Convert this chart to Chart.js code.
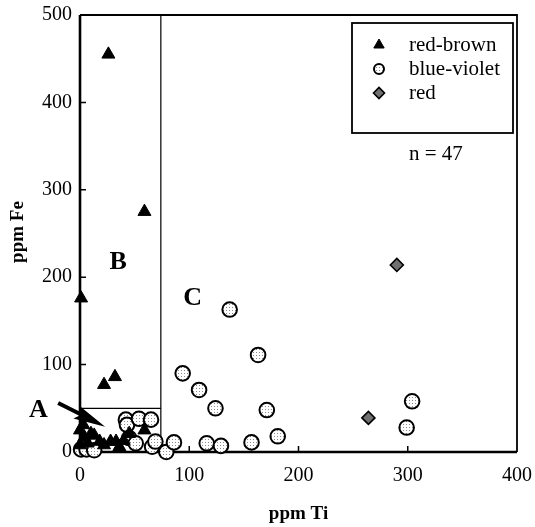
<!DOCTYPE html>
<html>
<head>
<meta charset="utf-8">
<script src="https://cdn.jsdelivr.net/npm/chart.js@4.4.0/dist/chart.umd.min.js"></script>
<style>
  html, body { margin: 0; padding: 0; background: #fff; }
  #wrap { width: 535px; height: 527px; }
</style>
</head>
<body>
<div id="wrap"><canvas id="chart"></canvas></div>
<script>
// values (ppm)
const redBrownTi = [26, 59, 1, 22, 32, 3, 0, 4, 10, 13, 18, 22, 28, 33, 40, 45, 59, 0, 7, 36];
const redBrownFe = [455, 275, 176, 77, 86, 31, 25, 17, 21, 19, 12, 8, 12, 12, 13, 21, 25, 8, 10, 6];

const blueVioletTi = [1, 6, 13, 42, 43, 54, 65, 45, 51, 66, 69, 79, 86, 94, 109, 116, 124, 129, 137, 157, 163, 171, 181, 299, 304];
const blueVioletFe = [3, 3, 2, 37, 31, 38, 37, 16, 10, 6, 12, 0, 11, 90, 71, 10, 50, 7, 163, 11, 111, 48, 18, 28, 58];

const redTi = [290, 264];
const redFe = [214, 39];

const xTicks = [0, 100, 200, 300, 400];
const yTicks = [0, 100, 200, 300, 400, 500];

// field boundaries and labels (data units)
const boxTi = 74, boxFe = 50;
const fieldNames = ['A', 'B', 'C'];
const fieldTi = [-38, 35, 103];
const fieldFe = [48, 217, 176];
const arrowFrom = [-20, 56], arrowTo = [23, 29];
const sampleCount = 'n = 47';

function pts(xs, ys) {
  return xs.map((v, i) => ({x: v, y: ys[i]}));
}

// stippled fill for the circles
const pat = document.createElement('canvas');
pat.width = 3; pat.height = 3;
const pctx = pat.getContext('2d');
pctx.fillStyle = '#fff'; pctx.fillRect(0, 0, 3, 3);
pctx.fillStyle = '#8a8a8a'; pctx.fillRect(1, 1, 1, 1);
const stipple = document.getElementById('chart').getContext('2d').createPattern(pat, 'repeat');

const serif = "'Liberation Serif', 'DejaVu Serif', serif";

const decor = {
  id: 'decor',
  beforeDatasetsDraw(chart) {
    const {ctx, chartArea: a, scales: {x, y}} = chart;
    ctx.save();
    ctx.strokeStyle = '#000';
    // field boxes
    ctx.lineWidth = 1.2;
    const bx = x.getPixelForValue(boxTi), by = y.getPixelForValue(boxFe);
    ctx.beginPath();
    ctx.moveTo(bx, a.top); ctx.lineTo(bx, a.bottom);
    ctx.moveTo(a.left, by); ctx.lineTo(bx, by);
    ctx.stroke();
    // frame
    ctx.lineWidth = 1.8;
    ctx.beginPath();
    ctx.moveTo(a.left, a.top); ctx.lineTo(a.right, a.top); ctx.lineTo(a.right, a.bottom);
    ctx.stroke();
    ctx.lineWidth = 2.6;
    ctx.beginPath();
    ctx.moveTo(a.left, a.top); ctx.lineTo(a.left, a.bottom); ctx.lineTo(a.right, a.bottom);
    ctx.stroke();
    // inward ticks
    ctx.lineWidth = 1.5;
    ctx.beginPath();
    yTicks.slice(1, -1).forEach(v => {
      const py = y.getPixelForValue(v);
      ctx.moveTo(a.left, py); ctx.lineTo(a.left + 6, py);
    });
    xTicks.slice(1, -1).forEach(v => {
      const px = x.getPixelForValue(v);
      ctx.moveTo(px, a.bottom); ctx.lineTo(px, a.bottom - 6);
    });
    ctx.stroke();
    ctx.restore();
  },
  afterDraw(chart) {
    const {ctx, chartArea: a, scales: {x, y}} = chart;
    ctx.save();
    ctx.fillStyle = '#000';
    // field letters
    ctx.font = 'bold 26px ' + serif;
    ctx.textAlign = 'center';
    ctx.textBaseline = 'middle';
    fieldNames.forEach((t, i) => {
      ctx.fillText(t, x.getPixelForValue(fieldTi[i]), y.getPixelForValue(fieldFe[i]));
    });
    // arrow to field A
    const x0 = x.getPixelForValue(arrowFrom[0]), y0 = y.getPixelForValue(arrowFrom[1]);
    const x1 = x.getPixelForValue(arrowTo[0]), y1 = y.getPixelForValue(arrowTo[1]);
    const ang = Math.atan2(y1 - y0, x1 - x0);
    const len = Math.hypot(x1 - x0, y1 - y0);
    ctx.translate(x0, y0);
    ctx.rotate(ang);
    ctx.beginPath();
    ctx.moveTo(0, -2);
    ctx.lineTo(len - 28, -2);
    ctx.lineTo(len - 32, -7);
    ctx.lineTo(len, 0);
    ctx.lineTo(len - 32, 7);
    ctx.lineTo(len - 28, 2);
    ctx.lineTo(0, 2);
    ctx.closePath();
    ctx.fill();
    ctx.setTransform(1, 0, 0, 1, 0, 0);

    // axis titles
    ctx.font = 'bold 19px ' + serif;
    ctx.textAlign = 'center';
    ctx.textBaseline = 'middle';
    ctx.fillText('ppm Ti', (a.left + a.right) / 2, 514);
    ctx.save();
    ctx.translate(18, 232);
    ctx.rotate(-Math.PI / 2);
    ctx.fillText('ppm Fe', 0, 0);
    ctx.restore();

    // legend box
    const lx = a.right - 165, ly = a.top + 8, lw = 161, lh = 110;
    ctx.lineWidth = 1.8;
    ctx.strokeStyle = '#000';
    ctx.strokeRect(lx, ly, lw, lh);
    ctx.font = '21px ' + serif;
    ctx.textAlign = 'left';
    chart.data.datasets.forEach((ds, i) => {
      const ry = ly + 22 + i * 24;
      ctx.fillStyle = ds.backgroundColor;
      ctx.strokeStyle = ds.borderColor;
      ctx.lineWidth = ds.borderWidth;
      Chart.helpers.drawPoint(ctx, {
        pointStyle: ds.pointStyle,
        radius: ds.legendRadius,
        borderWidth: ds.borderWidth
      }, lx + 27, ry);
      ctx.fillStyle = '#000';
      ctx.fillText(ds.label, lx + 57, ry);
    });
    ctx.fillText(sampleCount, lx + 57, ly + lh + 21);
    ctx.restore();
  }
};

new Chart(document.getElementById('chart'), {
  type: 'scatter',
  data: {
    datasets: [
      {
        label: 'red-brown',
        data: pts(redBrownTi, redBrownFe),
        pointStyle: 'triangle',
        pointRadius: 7.5,
        legendRadius: 6,
        backgroundColor: '#000',
        borderColor: '#000',
        borderWidth: 1,
        clip: false
      },
      {
        label: 'blue-violet',
        data: pts(blueVioletTi, blueVioletFe),
        pointStyle: 'circle',
        pointRadius: 7.3,
        legendRadius: 5,
        backgroundColor: stipple,
        borderColor: '#000',
        borderWidth: 2,
        clip: false
      },
      {
        label: 'red',
        data: pts(redTi, redFe),
        pointStyle: 'rectRot',
        pointRadius: 6.5,
        legendRadius: 5.5,
        backgroundColor: '#707070',
        borderColor: '#000',
        borderWidth: 1.6,
        clip: false
      }
    ]
  },
  options: {
    responsive: true,
    maintainAspectRatio: false,
    animation: false,
    events: [],
    layout: {padding: {left: 0, top: 15, right: 18, bottom: 0}},
    plugins: {legend: {display: false}, tooltip: {enabled: false}},
    scales: {
      x: {
        type: 'linear',
        min: 0, max: 400,
        afterBuildTicks: s => { s.ticks = xTicks.map(v => ({value: v})); },
        afterFit: s => { s.height = 75; s.paddingLeft = 0; s.paddingRight = 0; },
        grid: {display: false, drawTicks: false},
        border: {display: false},
        ticks: {color: '#000', padding: 12, font: {family: serif, size: 20}}
      },
      y: {
        type: 'linear',
        min: 0, max: 500,
        afterBuildTicks: s => { s.ticks = yTicks.map(v => ({value: v})); },
        afterFit: s => { s.width = 80; s.paddingTop = 0; s.paddingBottom = 0; },
        grid: {display: false, drawTicks: false},
        border: {display: false},
        ticks: {color: '#000', padding: 8, font: {family: serif, size: 20}}
      }
    }
  },
  plugins: [decor]
});
</script>
</body>
</html>
